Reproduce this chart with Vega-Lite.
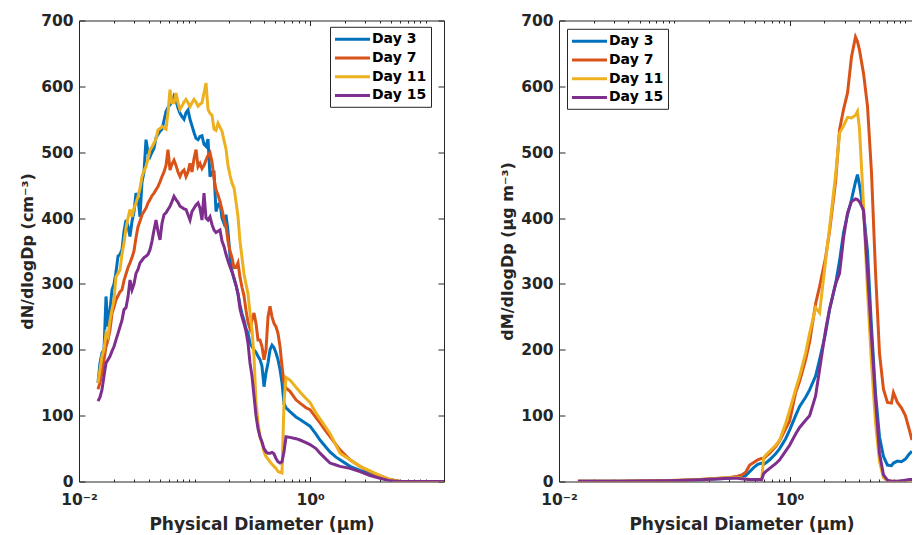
{
  "$schema": "https://vega.github.io/schema/vega-lite/v6.json",
  "background": "white",
  "padding": {"left": 19, "top": 13.5, "right": 0, "bottom": 0},
  "spacing": 115,
  "bounds": "flush",
  "config": {
    "font": "DejaVu Sans",
    "view": {"stroke": null},
    "axis": {"domainColor": "#262626", "tickColor": "#262626", "labelColor": "#262626", "titleColor": "#262626", "labelFont": "DejaVu Sans", "labelFontWeight": "bold", "labelFontSize": 15.5, "titleFont": "DejaVu Sans", "titleFontWeight": "bold", "titleFontSize": 16, "grid": false, "domainWidth": 1, "tickWidth": 1, "labelOverlap": false, "labelFlush": false},
    "legend": {"columnPadding": 0}
  },
  "resolve": {"scale": {"x": "independent", "y": "independent", "color": "independent"}, "legend": {"color": "independent"}},
  "datasets": {
    "num": [
      {"d": 0.0146, "Day 3": 150, "Day 7": 140, "Day 11": 150, "Day 15": 122},
      {"d": 0.0152, "Day 3": 180, "Day 7": 150, "Day 11": 170, "Day 15": 128},
      {"d": 0.0158, "Day 3": 195, "Day 7": 165, "Day 11": 190, "Day 15": 139},
      {"d": 0.01646, "Day 3": 200, "Day 7": 185, "Day 11": 200, "Day 15": 160},
      {"d": 0.01713, "Day 3": 281, "Day 7": 205, "Day 11": 225, "Day 15": 180},
      {"d": 0.01782, "Day 3": 235, "Day 7": 215, "Day 11": 220, "Day 15": 185},
      {"d": 0.01855, "Day 3": 260, "Day 7": 230, "Day 11": 245, "Day 15": 190},
      {"d": 0.0193, "Day 3": 291, "Day 7": 255, "Day 11": 261, "Day 15": 198},
      {"d": 0.02009, "Day 3": 300, "Day 7": 265, "Day 11": 275, "Day 15": 205},
      {"d": 0.0209, "Day 3": 318, "Day 7": 276, "Day 11": 311, "Day 15": 215},
      {"d": 0.02176, "Day 3": 342, "Day 7": 282, "Day 11": 316, "Day 15": 225},
      {"d": 0.02264, "Day 3": 345, "Day 7": 288, "Day 11": 321, "Day 15": 235},
      {"d": 0.02356, "Day 3": 352, "Day 7": 291, "Day 11": 345, "Day 15": 245},
      {"d": 0.02452, "Day 3": 380, "Day 7": 305, "Day 11": 362, "Day 15": 261},
      {"d": 0.02552, "Day 3": 397, "Day 7": 315, "Day 11": 385, "Day 15": 264},
      {"d": 0.02655, "Day 3": 387, "Day 7": 325, "Day 11": 400, "Day 15": 280},
      {"d": 0.02763, "Day 3": 372, "Day 7": 332, "Day 11": 413, "Day 15": 306},
      {"d": 0.02876, "Day 3": 395, "Day 7": 340, "Day 11": 402, "Day 15": 291},
      {"d": 0.02993, "Day 3": 410, "Day 7": 350, "Day 11": 415, "Day 15": 300},
      {"d": 0.03114, "Day 3": 438, "Day 7": 370, "Day 11": 423, "Day 15": 316},
      {"d": 0.03241, "Day 3": 430, "Day 7": 387, "Day 11": 433, "Day 15": 322},
      {"d": 0.03373, "Day 3": 402, "Day 7": 395, "Day 11": 445, "Day 15": 332},
      {"d": 0.0351, "Day 3": 455, "Day 7": 405, "Day 11": 463, "Day 15": 336},
      {"d": 0.03653, "Day 3": 470, "Day 7": 410, "Day 11": 472, "Day 15": 340},
      {"d": 0.03801, "Day 3": 519, "Day 7": 415, "Day 11": 478, "Day 15": 342},
      {"d": 0.03956, "Day 3": 500, "Day 7": 423, "Day 11": 490, "Day 15": 345},
      {"d": 0.04117, "Day 3": 493, "Day 7": 428, "Day 11": 504, "Day 15": 352},
      {"d": 0.04284, "Day 3": 500, "Day 7": 434, "Day 11": 508, "Day 15": 365},
      {"d": 0.04459, "Day 3": 506, "Day 7": 438, "Day 11": 514, "Day 15": 382},
      {"d": 0.0464, "Day 3": 522, "Day 7": 443, "Day 11": 520, "Day 15": 397},
      {"d": 0.04829, "Day 3": 527, "Day 7": 448, "Day 11": 534, "Day 15": 380},
      {"d": 0.05025, "Day 3": 532, "Day 7": 455, "Day 11": 536, "Day 15": 367},
      {"d": 0.05229, "Day 3": 535, "Day 7": 463, "Day 11": 539, "Day 15": 392},
      {"d": 0.05442, "Day 3": 548, "Day 7": 470, "Day 11": 537, "Day 15": 405},
      {"d": 0.05663, "Day 3": 562, "Day 7": 480, "Day 11": 535, "Day 15": 408},
      {"d": 0.05893, "Day 3": 568, "Day 7": 504, "Day 11": 560, "Day 15": 413},
      {"d": 0.06133, "Day 3": 572, "Day 7": 473, "Day 11": 595, "Day 15": 418},
      {"d": 0.06382, "Day 3": 576, "Day 7": 482, "Day 11": 575, "Day 15": 425},
      {"d": 0.06642, "Day 3": 585, "Day 7": 488, "Day 11": 575, "Day 15": 433},
      {"d": 0.06912, "Day 3": 578, "Day 7": 480, "Day 11": 590, "Day 15": 428},
      {"d": 0.07193, "Day 3": 567, "Day 7": 470, "Day 11": 575, "Day 15": 424},
      {"d": 0.07485, "Day 3": 559, "Day 7": 463, "Day 11": 565, "Day 15": 418},
      {"d": 0.0779, "Day 3": 554, "Day 7": 470, "Day 11": 570, "Day 15": 416},
      {"d": 0.08107, "Day 3": 550, "Day 7": 473, "Day 11": 576, "Day 15": 414},
      {"d": 0.08436, "Day 3": 560, "Day 7": 463, "Day 11": 580, "Day 15": 413},
      {"d": 0.0878, "Day 3": 564, "Day 7": 470, "Day 11": 575, "Day 15": 405},
      {"d": 0.09136, "Day 3": 550, "Day 7": 483, "Day 11": 569, "Day 15": 397},
      {"d": 0.09508, "Day 3": 540, "Day 7": 470, "Day 11": 575, "Day 15": 410},
      {"d": 0.09895, "Day 3": 530, "Day 7": 490, "Day 11": 580, "Day 15": 415},
      {"d": 0.103, "Day 3": 521, "Day 7": 504, "Day 11": 576, "Day 15": 420},
      {"d": 0.1072, "Day 3": 519, "Day 7": 478, "Day 11": 570, "Day 15": 423},
      {"d": 0.1115, "Day 3": 524, "Day 7": 483, "Day 11": 573, "Day 15": 415},
      {"d": 0.116, "Day 3": 525, "Day 7": 475, "Day 11": 575, "Day 15": 397},
      {"d": 0.1208, "Day 3": 512, "Day 7": 480, "Day 11": 590, "Day 15": 438},
      {"d": 0.1257, "Day 3": 509, "Day 7": 488, "Day 11": 605, "Day 15": 400},
      {"d": 0.1308, "Day 3": 520, "Day 7": 495, "Day 11": 565, "Day 15": 397},
      {"d": 0.1361, "Day 3": 463, "Day 7": 499, "Day 11": 559, "Day 15": 402},
      {"d": 0.1417, "Day 3": 470, "Day 7": 485, "Day 11": 556, "Day 15": 390},
      {"d": 0.1474, "Day 3": 470, "Day 7": 460, "Day 11": 535, "Day 15": 382},
      {"d": 0.1534, "Day 3": 410, "Day 7": 443, "Day 11": 533, "Day 15": 378},
      {"d": 0.1597, "Day 3": 420, "Day 7": 435, "Day 11": 544, "Day 15": 380},
      {"d": 0.1661, "Day 3": 423, "Day 7": 425, "Day 11": 538, "Day 15": 382},
      {"d": 0.1729, "Day 3": 400, "Day 7": 413, "Day 11": 532, "Day 15": 365},
      {"d": 0.1799, "Day 3": 392, "Day 7": 398, "Day 11": 518, "Day 15": 357},
      {"d": 0.1872, "Day 3": 405, "Day 7": 388, "Day 11": 505, "Day 15": 345},
      {"d": 0.1948, "Day 3": 380, "Day 7": 365, "Day 11": 480, "Day 15": 335},
      {"d": 0.2028, "Day 3": 342, "Day 7": 350, "Day 11": 465, "Day 15": 326},
      {"d": 0.211, "Day 3": 320, "Day 7": 340, "Day 11": 453, "Day 15": 318},
      {"d": 0.2196, "Day 3": 308, "Day 7": 325, "Day 11": 446, "Day 15": 309},
      {"d": 0.2285, "Day 3": 298, "Day 7": 325, "Day 11": 425, "Day 15": 298},
      {"d": 0.2378, "Day 3": 285, "Day 7": 332, "Day 11": 402, "Day 15": 285},
      {"d": 0.2475, "Day 3": 268, "Day 7": 310, "Day 11": 365, "Day 15": 262},
      {"d": 0.2575, "Day 3": 255, "Day 7": 295, "Day 11": 340, "Day 15": 250},
      {"d": 0.268, "Day 3": 245, "Day 7": 282, "Day 11": 315, "Day 15": 240},
      {"d": 0.2789, "Day 3": 232, "Day 7": 260, "Day 11": 300, "Day 15": 228},
      {"d": 0.2903, "Day 3": 225, "Day 7": 242, "Day 11": 285, "Day 15": 210},
      {"d": 0.3021, "Day 3": 210, "Day 7": 232, "Day 11": 256, "Day 15": 180},
      {"d": 0.3143, "Day 3": 205, "Day 7": 245, "Day 11": 230, "Day 15": 160},
      {"d": 0.3271, "Day 3": 200, "Day 7": 256, "Day 11": 190, "Day 15": 130},
      {"d": 0.3404, "Day 3": 196, "Day 7": 240, "Day 11": 120, "Day 15": 100},
      {"d": 0.3543, "Day 3": 190, "Day 7": 215, "Day 11": 90, "Day 15": 80},
      {"d": 0.3687, "Day 3": 185, "Day 7": 215, "Day 11": 68, "Day 15": 68},
      {"d": 0.3837, "Day 3": 175, "Day 7": 205, "Day 11": 58, "Day 15": 60},
      {"d": 0.3993, "Day 3": 144, "Day 7": 185, "Day 11": 45, "Day 15": 50},
      {"d": 0.4155, "Day 3": 165, "Day 7": 200, "Day 11": 38, "Day 15": 45},
      {"d": 0.4324, "Day 3": 180, "Day 7": 250, "Day 11": 34, "Day 15": 43},
      {"d": 0.45, "Day 3": 200, "Day 7": 266, "Day 11": 30, "Day 15": 43},
      {"d": 0.4683, "Day 3": 207, "Day 7": 250, "Day 11": 26, "Day 15": 44},
      {"d": 0.4874, "Day 3": 203, "Day 7": 240, "Day 11": 23, "Day 15": 42},
      {"d": 0.5071, "Day 3": 195, "Day 7": 235, "Day 11": 20, "Day 15": 35},
      {"d": 0.5278, "Day 3": 185, "Day 7": 225, "Day 11": 15, "Day 15": 30},
      {"d": 0.5492, "Day 3": 170, "Day 7": 205, "Day 11": 14, "Day 15": 28},
      {"d": 0.5716, "Day 3": 150, "Day 7": 175, "Day 11": 13, "Day 15": 30},
      {"d": 0.5948, "Day 3": 118, "Day 7": 150, "Day 11": 120, "Day 15": 45},
      {"d": 0.619, "Day 3": 112, "Day 7": 142, "Day 11": 158, "Day 15": 68},
      {"d": 0.6703, "Day 3": 106, "Day 7": 137, "Day 11": 154, "Day 15": 67},
      {"d": 0.7555, "Day 3": 98, "Day 7": 124, "Day 11": 143, "Day 15": 65},
      {"d": 0.8183, "Day 3": 94, "Day 7": 119, "Day 11": 136, "Day 15": 63},
      {"d": 0.922, "Day 3": 88, "Day 7": 112, "Day 11": 126, "Day 15": 59},
      {"d": 0.9987, "Day 3": 84, "Day 7": 109, "Day 11": 120, "Day 15": 56},
      {"d": 1.1255, "Day 3": 72, "Day 7": 97, "Day 11": 104, "Day 15": 50},
      {"d": 1.219, "Day 3": 63, "Day 7": 89, "Day 11": 95, "Day 15": 43},
      {"d": 1.374, "Day 3": 52, "Day 7": 76, "Day 11": 82, "Day 15": 34},
      {"d": 1.488, "Day 3": 45, "Day 7": 68, "Day 11": 73, "Day 15": 28},
      {"d": 1.677, "Day 3": 37, "Day 7": 56, "Day 11": 55, "Day 15": 25},
      {"d": 1.816, "Day 3": 33, "Day 7": 48, "Day 11": 43, "Day 15": 23},
      {"d": 2.216, "Day 3": 23, "Day 7": 33, "Day 11": 33, "Day 15": 20},
      {"d": 2.705, "Day 3": 17, "Day 7": 23, "Day 11": 23, "Day 15": 15},
      {"d": 3.302, "Day 3": 12, "Day 7": 15, "Day 11": 16, "Day 15": 9},
      {"d": 4.03, "Day 3": 7, "Day 7": 9, "Day 11": 9, "Day 15": 5},
      {"d": 4.919, "Day 3": 2, "Day 7": 3, "Day 11": 3, "Day 15": 1},
      {"d": 6.004, "Day 3": 0, "Day 7": 0, "Day 11": 0, "Day 15": 0},
      {"d": 8.946, "Day 3": 0, "Day 7": 0, "Day 11": 0, "Day 15": 0},
      {"d": 14.43, "Day 3": 0, "Day 7": 0, "Day 11": 0, "Day 15": 0}
    ],
    "mass": [
      {"d": 0.0146, "Day 3": 0.3, "Day 7": 0.3, "Day 11": 0.3, "Day 15": 0.2},
      {"d": 0.03373, "Day 3": 0.5, "Day 7": 0.5, "Day 11": 0.5, "Day 15": 0.4},
      {"d": 0.07485, "Day 3": 1, "Day 7": 1.2, "Day 11": 1.2, "Day 15": 1},
      {"d": 0.1115, "Day 3": 1.5, "Day 7": 2, "Day 11": 2, "Day 15": 1.5},
      {"d": 0.1661, "Day 3": 2.5, "Day 7": 3, "Day 11": 3, "Day 15": 2.5},
      {"d": 0.2475, "Day 3": 4, "Day 7": 5, "Day 11": 5, "Day 15": 4},
      {"d": 0.3021, "Day 3": 5, "Day 7": 6, "Day 11": 6, "Day 15": 5},
      {"d": 0.3543, "Day 3": 7, "Day 7": 8, "Day 11": 6, "Day 15": 5},
      {"d": 0.3837, "Day 3": 8, "Day 7": 10, "Day 11": 5, "Day 15": 4},
      {"d": 0.4155, "Day 3": 9, "Day 7": 14, "Day 11": 4, "Day 15": 3.5},
      {"d": 0.45, "Day 3": 15, "Day 7": 25, "Day 11": 3, "Day 15": 3},
      {"d": 0.4874, "Day 3": 21, "Day 7": 29, "Day 11": 3, "Day 15": 3},
      {"d": 0.5278, "Day 3": 26, "Day 7": 33, "Day 11": 3, "Day 15": 3},
      {"d": 0.5716, "Day 3": 28, "Day 7": 35, "Day 11": 3, "Day 15": 3},
      {"d": 0.5948, "Day 3": 26, "Day 7": 34, "Day 11": 36, "Day 15": 12},
      {"d": 0.619, "Day 3": 28, "Day 7": 38, "Day 11": 40, "Day 15": 15},
      {"d": 0.6703, "Day 3": 33, "Day 7": 43, "Day 11": 46, "Day 15": 20},
      {"d": 0.7555, "Day 3": 42, "Day 7": 53, "Day 11": 55, "Day 15": 27},
      {"d": 0.8183, "Day 3": 50, "Day 7": 62, "Day 11": 63, "Day 15": 33},
      {"d": 0.922, "Day 3": 65, "Day 7": 80, "Day 11": 88, "Day 15": 46},
      {"d": 0.9987, "Day 3": 78, "Day 7": 92, "Day 11": 108, "Day 15": 55},
      {"d": 1.1255, "Day 3": 100, "Day 7": 135, "Day 11": 140, "Day 15": 72},
      {"d": 1.219, "Day 3": 114, "Day 7": 152, "Day 11": 160, "Day 15": 82},
      {"d": 1.374, "Day 3": 128, "Day 7": 185, "Day 11": 195, "Day 15": 93},
      {"d": 1.488, "Day 3": 139, "Day 7": 212, "Day 11": 225, "Day 15": 100},
      {"d": 1.677, "Day 3": 160, "Day 7": 270, "Day 11": 264, "Day 15": 130},
      {"d": 1.816, "Day 3": 185, "Day 7": 296, "Day 11": 256, "Day 15": 170},
      {"d": 2.047, "Day 3": 225, "Day 7": 340, "Day 11": 335, "Day 15": 230},
      {"d": 2.216, "Day 3": 261, "Day 7": 380, "Day 11": 385, "Day 15": 262},
      {"d": 2.498, "Day 3": 300, "Day 7": 455, "Day 11": 465, "Day 15": 300},
      {"d": 2.705, "Day 3": 335, "Day 7": 534, "Day 11": 529, "Day 15": 316},
      {"d": 2.93, "Day 3": 378, "Day 7": 565, "Day 11": 540, "Day 15": 370},
      {"d": 3.172, "Day 3": 405, "Day 7": 590, "Day 11": 553, "Day 15": 408},
      {"d": 3.435, "Day 3": 428, "Day 7": 645, "Day 11": 552, "Day 15": 425},
      {"d": 3.719, "Day 3": 455, "Day 7": 675, "Day 11": 556, "Day 15": 429},
      {"d": 3.87, "Day 3": 466, "Day 7": 668, "Day 11": 562, "Day 15": 428},
      {"d": 4.03, "Day 3": 450, "Day 7": 655, "Day 11": 535, "Day 15": 425},
      {"d": 4.363, "Day 3": 410, "Day 7": 620, "Day 11": 420, "Day 15": 412},
      {"d": 4.725, "Day 3": 350, "Day 7": 570, "Day 11": 290, "Day 15": 320},
      {"d": 5.117, "Day 3": 235, "Day 7": 470, "Day 11": 180, "Day 15": 220},
      {"d": 5.541, "Day 3": 135, "Day 7": 320, "Day 11": 90, "Day 15": 125},
      {"d": 6.004, "Day 3": 68, "Day 7": 195, "Day 11": 30, "Day 15": 43},
      {"d": 6.501, "Day 3": 38, "Day 7": 140, "Day 11": 6, "Day 15": 10},
      {"d": 7.04, "Day 3": 25, "Day 7": 120, "Day 11": 1, "Day 15": 2},
      {"d": 7.623, "Day 3": 24, "Day 7": 119, "Day 11": 0.5, "Day 15": 0.5},
      {"d": 7.933, "Day 3": 28, "Day 7": 135, "Day 11": 0.5, "Day 15": 0.5},
      {"d": 8.591, "Day 3": 31, "Day 7": 120, "Day 11": 0.5, "Day 15": 0.5},
      {"d": 9.303, "Day 3": 30, "Day 7": 112, "Day 11": 0.5, "Day 15": 1},
      {"d": 10.07, "Day 3": 34, "Day 7": 100, "Day 11": 0.5, "Day 15": 2},
      {"d": 10.91, "Day 3": 42, "Day 7": 78, "Day 11": 1, "Day 15": 3},
      {"d": 11.49, "Day 3": 46, "Day 7": 63, "Day 11": 1, "Day 15": 3}
    ]
  },
  "hconcat": [
    {
      "width": 365,
      "height": 461,
      "data": {"name": "num"},
      "transform": [{"fold": ["Day 3", "Day 7", "Day 11", "Day 15"], "as": ["day", "v"]}],
      "layer": [
        {
          "mark": {"type": "line", "strokeWidth": 3, "clip": true},
          "encoding": {
            "x": {"field": "d", "type": "quantitative", "scale": {"type": "log", "domain": [0.01, 14.43], "nice": false},
              "axis": {"orient": "bottom", "values": [0.01,0.02,0.03,0.04,0.05,0.06,0.07,0.08,0.09,0.1,0.2,0.3,0.4,0.5,0.6,0.7,0.8,0.9,1,2,3,4,5,6,7,8,9,10],
                "labelExpr": "datum.value == 0.01 ? '10⁻²' : (datum.value == 1 ? '10⁰' : '')",
                "tickSize": {"condition": {"test": "datum.value == 0.01 || datum.value == 1", "value": -5}, "value": -2.5},
                "labelPadding": 16, "title": "Physical Diameter (μm)", "titleFontSize": 17, "titlePadding": 6}},
            "y": {"field": "v", "type": "quantitative", "scale": {"domain": [0, 700], "nice": false},
              "axis": {"orient": "left", "values": [0,100,200,300,400,500,600,700], "tickSize": -6, "labelPadding": 12, "title": "dN/dlogDp (cm⁻³)", "titlePadding": 5}},
            "color": {"field": "day", "type": "nominal",
              "scale": {"domain": ["Day 3", "Day 7", "Day 11", "Day 15"], "range": ["#0072BD", "#D95319", "#EDB120", "#7E2F8E"]},
              "legend": {"orient": "none", "legendX": 251, "legendY": 6.3, "title": null, "symbolType": "M-1.07,0H3.93", "symbolSize": 196, "symbolStrokeWidth": 3, "labelFontSize": 14, "labelFontWeight": "bold", "labelFont": "DejaVu Sans", "labelColor": "#000000", "labelOffset": 21, "padding": 4, "rowPadding": 2.7, "columnPadding": 0, "strokeColor": "#262626", "fillColor": "#ffffff"}}
          }
        },
        {
          "mark": {"type": "line", "strokeOpacity": 0, "clip": true},
          "encoding": {
            "x": {"field": "d", "type": "quantitative", "scale": {"type": "log", "domain": [0.01, 14.43], "nice": false},
              "axis": {"orient": "top", "values": [0.01,0.02,0.03,0.04,0.05,0.06,0.07,0.08,0.09,0.1,0.2,0.3,0.4,0.5,0.6,0.7,0.8,0.9,1,2,3,4,5,6,7,8,9,10], "labels": false, "title": null,
                "tickSize": {"condition": {"test": "datum.value == 0.01 || datum.value == 1", "value": -5}, "value": -2.5}}},
            "y": {"field": "v", "type": "quantitative", "scale": {"domain": [0, 700], "nice": false},
              "axis": {"orient": "right", "values": [0,100,200,300,400,500,600,700], "tickSize": -6, "labels": false, "title": null}}
          }
        }
      ],
      "resolve": {"axis": {"x": "independent", "y": "independent"}}
    },
    {
      "width": 353,
      "height": 461,
      "data": {"name": "mass"},
      "transform": [{"fold": ["Day 3", "Day 7", "Day 11", "Day 15"], "as": ["day", "v"]}],
      "layer": [
        {
          "mark": {"type": "line", "strokeWidth": 3, "clip": true},
          "encoding": {
            "x": {"field": "d", "type": "quantitative", "scale": {"type": "log", "domain": [0.01, 11.49], "nice": false},
              "axis": {"orient": "bottom", "values": [0.01,0.02,0.03,0.04,0.05,0.06,0.07,0.08,0.09,0.1,0.2,0.3,0.4,0.5,0.6,0.7,0.8,0.9,1,2,3,4,5,6,7,8,9,10],
                "labelExpr": "datum.value == 0.01 ? '10⁻²' : (datum.value == 1 ? '10⁰' : '')",
                "tickSize": {"condition": {"test": "datum.value == 0.01 || datum.value == 1", "value": -5}, "value": -2.5},
                "labelPadding": 16, "title": "Physical Diameter (μm)", "titleFontSize": 17, "titlePadding": 6, "titleX": 182.5}},
            "y": {"field": "v", "type": "quantitative", "scale": {"domain": [0, 700], "nice": false},
              "axis": {"orient": "left", "values": [0,100,200,300,400,500,600,700], "tickSize": -6, "labelPadding": 12, "title": "dM/dlogDp (μg m⁻³)", "titlePadding": 5}},
            "color": {"field": "day", "type": "nominal",
              "scale": {"domain": ["Day 3", "Day 7", "Day 11", "Day 15"], "range": ["#0072BD", "#D95319", "#EDB120", "#7E2F8E"]},
              "legend": {"orient": "none", "legendX": 8, "legendY": 8.3, "title": null, "symbolType": "M-1.07,0H3.93", "symbolSize": 196, "symbolStrokeWidth": 3, "labelFontSize": 14, "labelFontWeight": "bold", "labelFont": "DejaVu Sans", "labelColor": "#000000", "labelOffset": 21, "padding": 4, "rowPadding": 2.7, "columnPadding": 0, "strokeColor": "#262626", "fillColor": "#ffffff"}}
          }
        },
        {
          "mark": {"type": "line", "strokeOpacity": 0, "clip": true},
          "encoding": {
            "x": {"field": "d", "type": "quantitative", "scale": {"type": "log", "domain": [0.01, 11.49], "nice": false},
              "axis": {"orient": "top", "values": [0.01,0.02,0.03,0.04,0.05,0.06,0.07,0.08,0.09,0.1,0.2,0.3,0.4,0.5,0.6,0.7,0.8,0.9,1,2,3,4,5,6,7,8,9,10], "labels": false, "title": null,
                "tickSize": {"condition": {"test": "datum.value == 0.01 || datum.value == 1", "value": -5}, "value": -2.5}}},
            "y": {"field": "v", "type": "quantitative", "scale": {"domain": [0, 700], "nice": false}, "axis": null}
          }
        }
      ],
      "resolve": {"axis": {"x": "independent", "y": "independent"}}
    }
  ]
}
